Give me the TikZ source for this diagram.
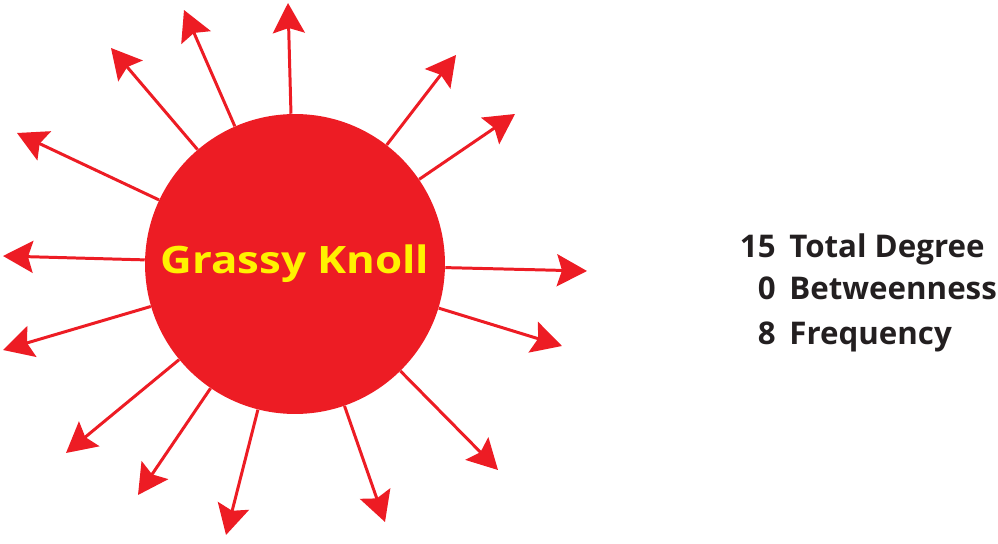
\documentclass[tikz,border=0pt]{standalone}
\usepackage{fontspec}
\setmainfont{Open Sans}
\usetikzlibrary{arrows.meta}
\definecolor{knollred}{HTML}{ED1C24}
\definecolor{knollyellow}{HTML}{FFF200}
\definecolor{statgray}{HTML}{231F20}
\begin{document}
\begin{tikzpicture}[x=0.02cm,y=-0.02cm,
    hub/.style={circle,fill=knollred,minimum size=6cm,inner sep=0pt,
      text=knollyellow,font=\fontsize{21.5}{24}\selectfont\bfseries},
    spoke/.style={knollred,line width=1.7pt,
      -{Stealth[length=0.6cm,width=0.64cm,inset=0.1cm]}},
    statnum/.style={anchor=base east,inner sep=0pt,text=statgray,
      font=\fontsize{17.8}{23}\selectfont\bfseries},
    statlabel/.style={anchor=base west,inner sep=0pt,text=statgray,
      font=\fontsize{17.8}{23}\selectfont\bfseries}]
  \useasboundingbox (0,0) rectangle (998,544);
  \node[hub] (knoll) at (295,264) {\scalebox{1.16}[1]{Grassy Knoll}};
  % arrow tips, clockwise from the top
  \coordinate (t1) at (288,3);
  \coordinate (t2) at (456,55);
  \coordinate (t3) at (515,114);
  \coordinate (t4) at (587,271);
  \coordinate (t5) at (562,346);
  \coordinate (t6) at (498,470);
  \coordinate (t7) at (385,522);
  \coordinate (t8) at (226,535);
  \coordinate (t9) at (138,495);
  \coordinate (t10) at (66,453);
  \coordinate (t11) at (3,350);
  \coordinate (t12) at (3,256);
  \coordinate (t13) at (17,133);
  \coordinate (t14) at (111,48);
  \coordinate (t15) at (184,10);
  \foreach \t in {1,...,15}
    \draw[spoke] (knoll) -- (t\t);
  % stats
  \node[statnum] (degnum) at (776,257) {15};
  \node[statlabel] (deglbl) at (789,257) {Total Degree};
  \node[statnum] (betnum) at (776,299) {0};
  \node[statlabel] (betlbl) at (789,299) {Betweenness};
  \node[statnum] (freqnum) at (776,344) {8};
  \node[statlabel] (freqlbl) at (789,344) {Frequency};
\end{tikzpicture}
\end{document}
